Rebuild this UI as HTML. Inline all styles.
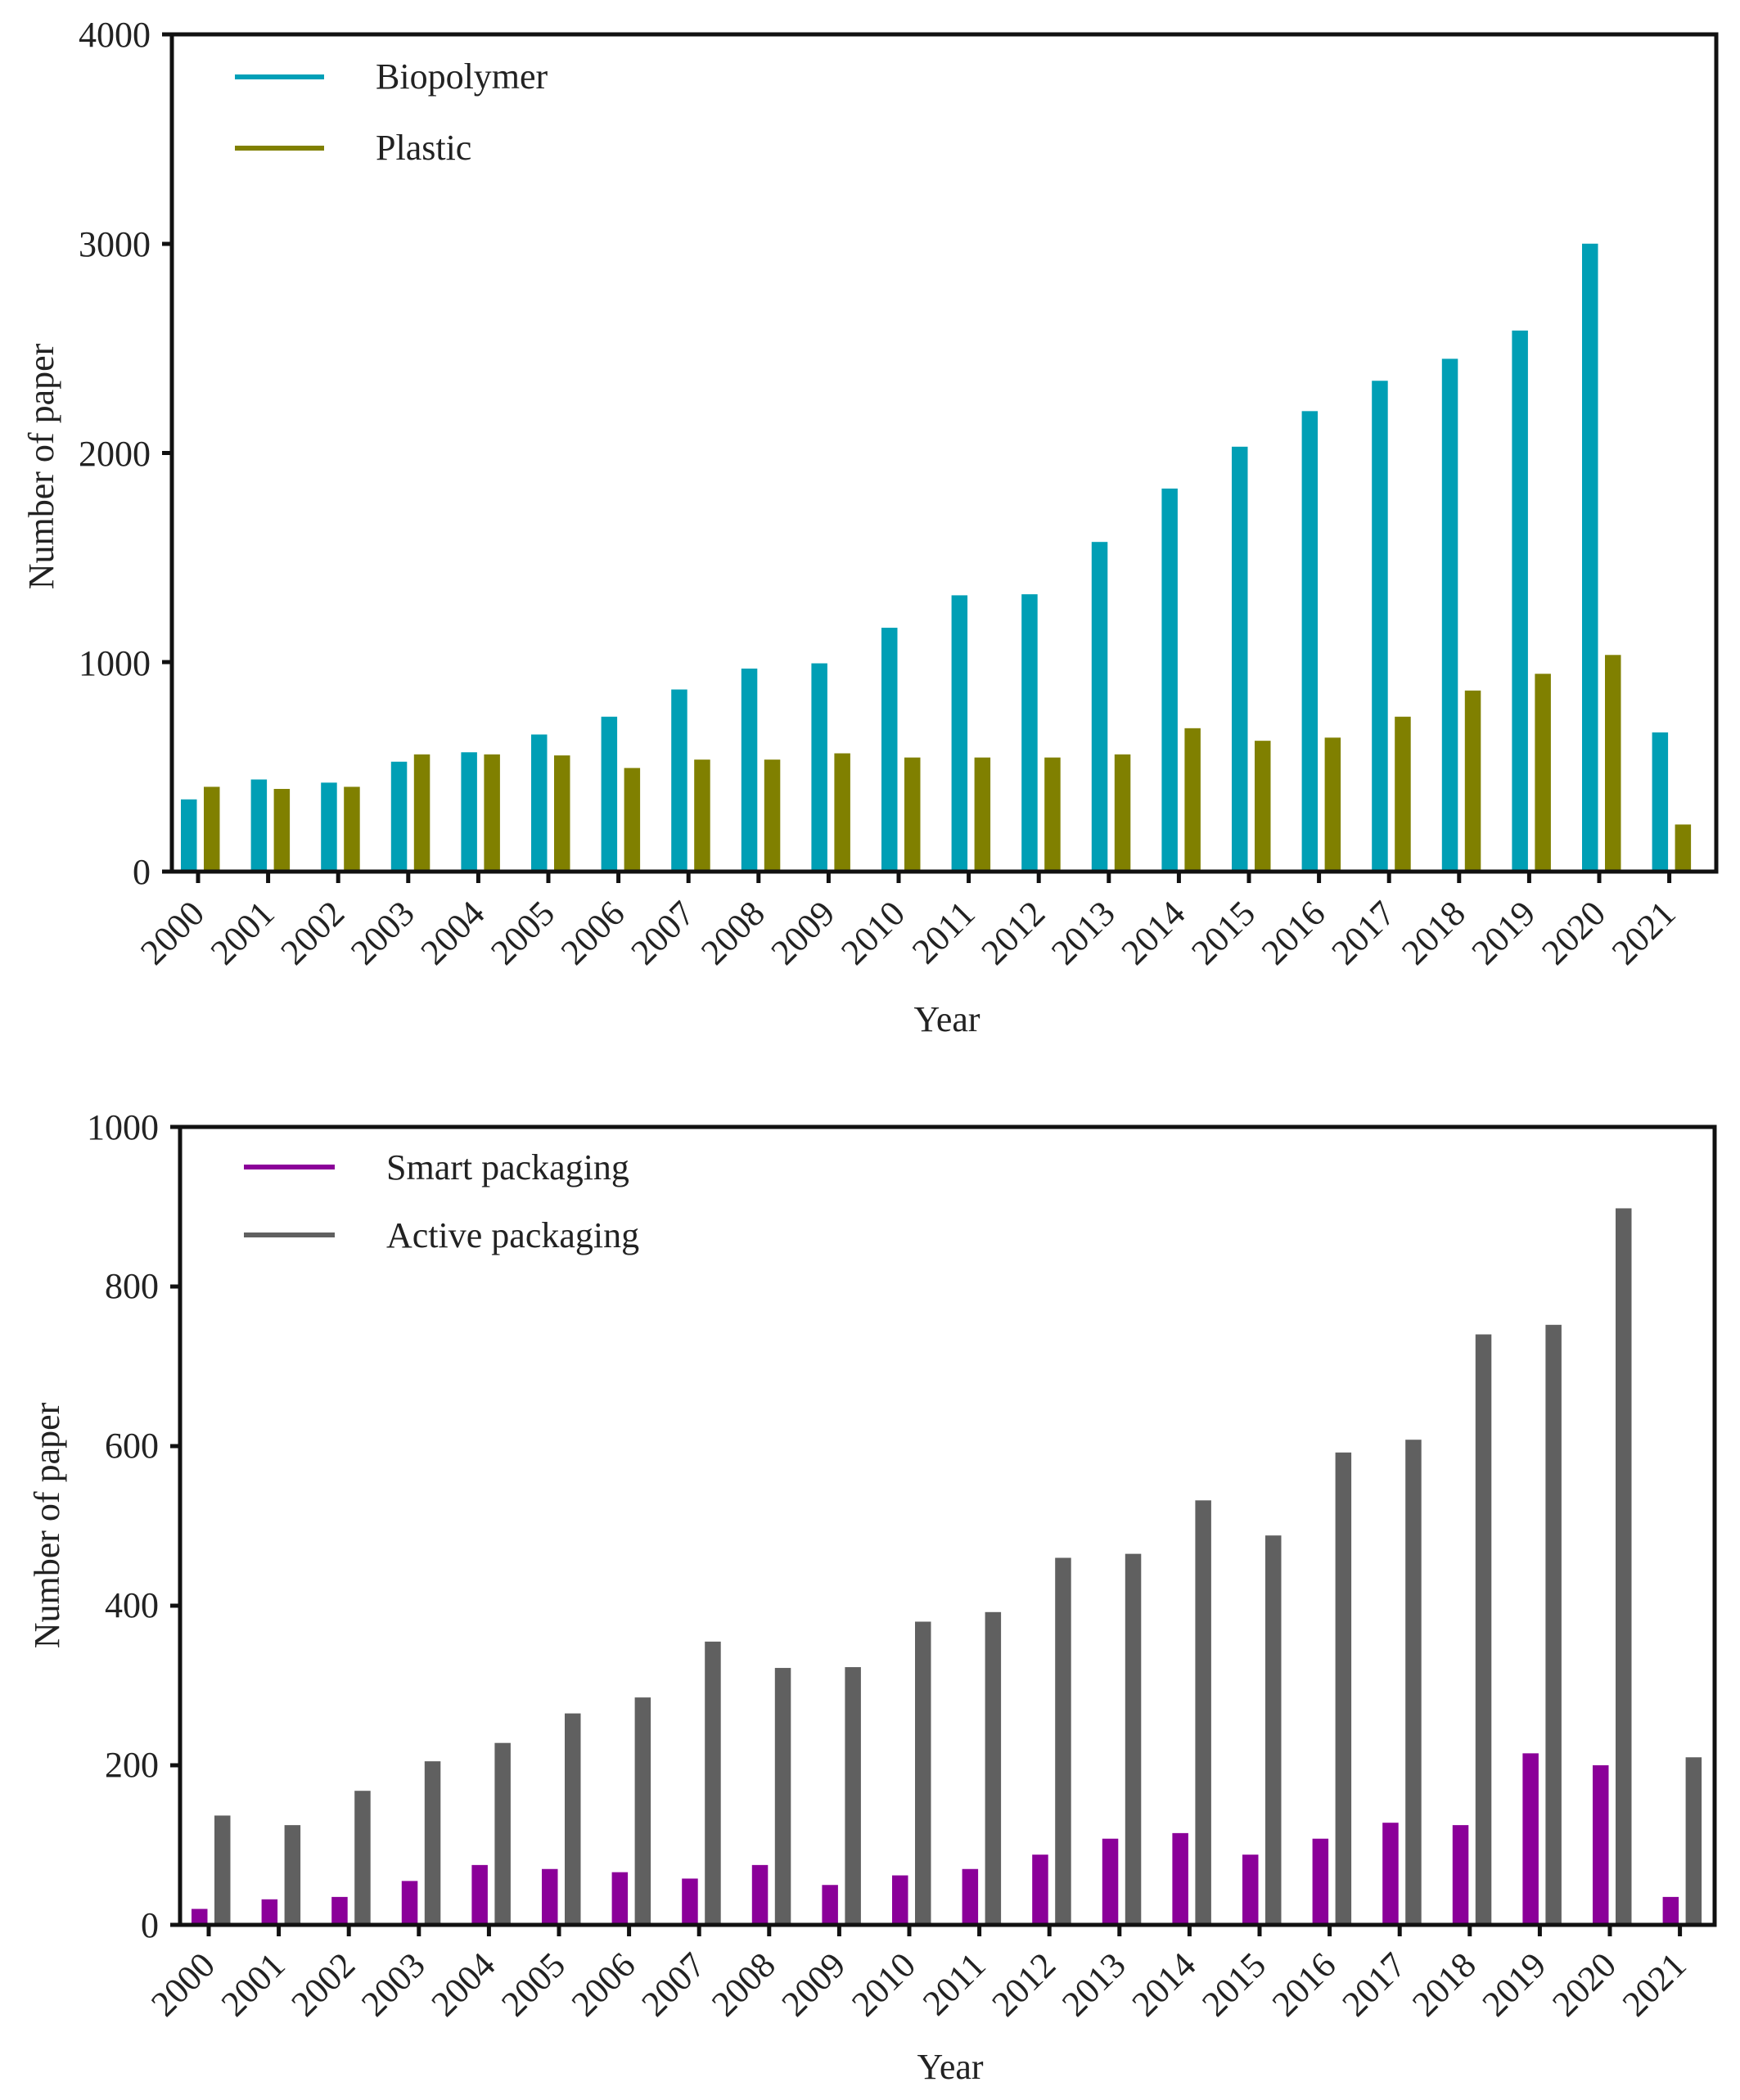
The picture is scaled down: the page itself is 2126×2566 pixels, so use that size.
<!DOCTYPE html>
<html><head><meta charset="utf-8"><style>
html,body{margin:0;padding:0;background:#fff;}
svg{display:block;font-family:"Liberation Serif",serif;}
</style></head><body>
<svg width="2126" height="2566" viewBox="0 0 2126 2566" xmlns="http://www.w3.org/2000/svg">
<rect width="2126" height="2566" fill="#fff"/>

<!-- TOP BARS -->
<g transform="translate(0,1065) scale(1,-0.25575)">
<g fill="#009fb5">
<rect x="221" y="0" width="19.5" height="345"/>
<rect x="306.6" y="0" width="19.5" height="440"/>
<rect x="392.2" y="0" width="19.5" height="425"/>
<rect x="477.8" y="0" width="19.5" height="525"/>
<rect x="563.4" y="0" width="19.5" height="570"/>
<rect x="649" y="0" width="19.5" height="655"/>
<rect x="734.6" y="0" width="19.5" height="740"/>
<rect x="820.2" y="0" width="19.5" height="870"/>
<rect x="905.8" y="0" width="19.5" height="970"/>
<rect x="991.4" y="0" width="19.5" height="995"/>
<rect x="1077" y="0" width="19.5" height="1165"/>
<rect x="1162.6" y="0" width="19.5" height="1320"/>
<rect x="1248.2" y="0" width="19.5" height="1325"/>
<rect x="1333.8" y="0" width="19.5" height="1575"/>
<rect x="1419.4" y="0" width="19.5" height="1830"/>
<rect x="1505" y="0" width="19.5" height="2030"/>
<rect x="1590.6" y="0" width="19.5" height="2200"/>
<rect x="1676.2" y="0" width="19.5" height="2345"/>
<rect x="1761.8" y="0" width="19.5" height="2450"/>
<rect x="1847.4" y="0" width="19.5" height="2585"/>
<rect x="1933" y="0" width="19.5" height="3000"/>
<rect x="2018.6" y="0" width="19.5" height="665"/>
</g>
<g fill="#808000">
<rect x="249" y="0" width="19.5" height="405"/>
<rect x="334.6" y="0" width="19.5" height="395"/>
<rect x="420.2" y="0" width="19.5" height="405"/>
<rect x="505.8" y="0" width="19.5" height="560"/>
<rect x="591.4" y="0" width="19.5" height="560"/>
<rect x="677" y="0" width="19.5" height="555"/>
<rect x="762.6" y="0" width="19.5" height="495"/>
<rect x="848.2" y="0" width="19.5" height="535"/>
<rect x="933.8" y="0" width="19.5" height="535"/>
<rect x="1019.4" y="0" width="19.5" height="565"/>
<rect x="1105" y="0" width="19.5" height="545"/>
<rect x="1190.6" y="0" width="19.5" height="545"/>
<rect x="1276.2" y="0" width="19.5" height="545"/>
<rect x="1361.8" y="0" width="19.5" height="560"/>
<rect x="1447.4" y="0" width="19.5" height="685"/>
<rect x="1533" y="0" width="19.5" height="625"/>
<rect x="1618.6" y="0" width="19.5" height="640"/>
<rect x="1704.2" y="0" width="19.5" height="740"/>
<rect x="1789.8" y="0" width="19.5" height="865"/>
<rect x="1875.4" y="0" width="19.5" height="945"/>
<rect x="1961" y="0" width="19.5" height="1035"/>
<rect x="2046.6" y="0" width="19.5" height="225"/>
</g>
</g>

<!-- BOTTOM BARS -->
<g transform="translate(0,2352) scale(1,-0.975)">
<g fill="#8b0099">
<rect x="234" y="0" width="19.5" height="20"/>
<rect x="319.6" y="0" width="19.5" height="32"/>
<rect x="405.2" y="0" width="19.5" height="35"/>
<rect x="490.8" y="0" width="19.5" height="55"/>
<rect x="576.4" y="0" width="19.5" height="75"/>
<rect x="662" y="0" width="19.5" height="70"/>
<rect x="747.6" y="0" width="19.5" height="66"/>
<rect x="833.2" y="0" width="19.5" height="58"/>
<rect x="918.8" y="0" width="19.5" height="75"/>
<rect x="1004.4" y="0" width="19.5" height="50"/>
<rect x="1090" y="0" width="19.5" height="62"/>
<rect x="1175.6" y="0" width="19.5" height="70"/>
<rect x="1261.2" y="0" width="19.5" height="88"/>
<rect x="1346.8" y="0" width="19.5" height="108"/>
<rect x="1432.4" y="0" width="19.5" height="115"/>
<rect x="1518" y="0" width="19.5" height="88"/>
<rect x="1603.6" y="0" width="19.5" height="108"/>
<rect x="1689.2" y="0" width="19.5" height="128"/>
<rect x="1774.8" y="0" width="19.5" height="125"/>
<rect x="1860.4" y="0" width="19.5" height="215"/>
<rect x="1946" y="0" width="19.5" height="200"/>
<rect x="2031.6" y="0" width="19.5" height="35"/>
</g>
<g fill="#606060">
<rect x="262" y="0" width="19.5" height="137"/>
<rect x="347.6" y="0" width="19.5" height="125"/>
<rect x="433.2" y="0" width="19.5" height="168"/>
<rect x="518.8" y="0" width="19.5" height="205"/>
<rect x="604.4" y="0" width="19.5" height="228"/>
<rect x="690" y="0" width="19.5" height="265"/>
<rect x="775.6" y="0" width="19.5" height="285"/>
<rect x="861.2" y="0" width="19.5" height="355"/>
<rect x="946.8" y="0" width="19.5" height="322"/>
<rect x="1032.4" y="0" width="19.5" height="323"/>
<rect x="1118" y="0" width="19.5" height="380"/>
<rect x="1203.6" y="0" width="19.5" height="392"/>
<rect x="1289.2" y="0" width="19.5" height="460"/>
<rect x="1374.8" y="0" width="19.5" height="465"/>
<rect x="1460.4" y="0" width="19.5" height="532"/>
<rect x="1546" y="0" width="19.5" height="488"/>
<rect x="1631.6" y="0" width="19.5" height="592"/>
<rect x="1717.2" y="0" width="19.5" height="608"/>
<rect x="1802.8" y="0" width="19.5" height="740"/>
<rect x="1888.4" y="0" width="19.5" height="752"/>
<rect x="1974" y="0" width="19.5" height="898"/>
<rect x="2059.6" y="0" width="19.5" height="210"/>
</g>
</g>

<!-- AXES -->
<rect x="210" y="42" width="1887" height="1023" fill="none" stroke="#111" stroke-width="5"/>
<rect x="220" y="1377" width="1875" height="975" fill="none" stroke="#111" stroke-width="5"/>
<g stroke="#111" stroke-width="5">
<line x1="198" y1="42" x2="210" y2="42"/>
<line x1="198" y1="298" x2="210" y2="298"/>
<line x1="198" y1="553.5" x2="210" y2="553.5"/>
<line x1="198" y1="809" x2="210" y2="809"/>
<line x1="198" y1="1065" x2="210" y2="1065"/>
<line x1="208" y1="1377" x2="220" y2="1377"/>
<line x1="208" y1="1572" x2="220" y2="1572"/>
<line x1="208" y1="1767" x2="220" y2="1767"/>
<line x1="208" y1="1962" x2="220" y2="1962"/>
<line x1="208" y1="2157" x2="220" y2="2157"/>
<line x1="208" y1="2352" x2="220" y2="2352"/>
</g>
<g stroke="#111" stroke-width="5">
<line x1="242" y1="1065" x2="242" y2="1079"/><line x1="327.6" y1="1065" x2="327.6" y2="1079"/><line x1="413.2" y1="1065" x2="413.2" y2="1079"/><line x1="498.8" y1="1065" x2="498.8" y2="1079"/><line x1="584.4" y1="1065" x2="584.4" y2="1079"/><line x1="670" y1="1065" x2="670" y2="1079"/><line x1="755.6" y1="1065" x2="755.6" y2="1079"/><line x1="841.2" y1="1065" x2="841.2" y2="1079"/><line x1="926.8" y1="1065" x2="926.8" y2="1079"/><line x1="1012.4" y1="1065" x2="1012.4" y2="1079"/><line x1="1098" y1="1065" x2="1098" y2="1079"/><line x1="1183.6" y1="1065" x2="1183.6" y2="1079"/><line x1="1269.2" y1="1065" x2="1269.2" y2="1079"/><line x1="1354.8" y1="1065" x2="1354.8" y2="1079"/><line x1="1440.4" y1="1065" x2="1440.4" y2="1079"/><line x1="1526" y1="1065" x2="1526" y2="1079"/><line x1="1611.6" y1="1065" x2="1611.6" y2="1079"/><line x1="1697.2" y1="1065" x2="1697.2" y2="1079"/><line x1="1782.8" y1="1065" x2="1782.8" y2="1079"/><line x1="1868.4" y1="1065" x2="1868.4" y2="1079"/><line x1="1954" y1="1065" x2="1954" y2="1079"/><line x1="2039.6" y1="1065" x2="2039.6" y2="1079"/>
<line x1="255" y1="2352" x2="255" y2="2366"/><line x1="340.6" y1="2352" x2="340.6" y2="2366"/><line x1="426.2" y1="2352" x2="426.2" y2="2366"/><line x1="511.8" y1="2352" x2="511.8" y2="2366"/><line x1="597.4" y1="2352" x2="597.4" y2="2366"/><line x1="683" y1="2352" x2="683" y2="2366"/><line x1="768.6" y1="2352" x2="768.6" y2="2366"/><line x1="854.2" y1="2352" x2="854.2" y2="2366"/><line x1="939.8" y1="2352" x2="939.8" y2="2366"/><line x1="1025.4" y1="2352" x2="1025.4" y2="2366"/><line x1="1111" y1="2352" x2="1111" y2="2366"/><line x1="1196.6" y1="2352" x2="1196.6" y2="2366"/><line x1="1282.2" y1="2352" x2="1282.2" y2="2366"/><line x1="1367.8" y1="2352" x2="1367.8" y2="2366"/><line x1="1453.4" y1="2352" x2="1453.4" y2="2366"/><line x1="1539" y1="2352" x2="1539" y2="2366"/><line x1="1624.6" y1="2352" x2="1624.6" y2="2366"/><line x1="1710.2" y1="2352" x2="1710.2" y2="2366"/><line x1="1795.8" y1="2352" x2="1795.8" y2="2366"/><line x1="1881.4" y1="2352" x2="1881.4" y2="2366"/><line x1="1967" y1="2352" x2="1967" y2="2366"/><line x1="2052.6" y1="2352" x2="2052.6" y2="2366"/>
</g>

<!-- TEXT -->
<g font-size="44" fill="#222">
<text x="184" y="57" text-anchor="end">4000</text>
<text x="184" y="313" text-anchor="end">3000</text>
<text x="184" y="569" text-anchor="end">2000</text>
<text x="184" y="825" text-anchor="end">1000</text>
<text x="184" y="1080" text-anchor="end">0</text>
<text transform="translate(65,570) rotate(-90)" text-anchor="middle">Number of paper</text>
<text x="1157" y="1260" text-anchor="middle">Year</text>
<text x="459" y="108">Biopolymer</text>
<text x="459" y="195">Plastic</text>
<text x="194" y="1392" text-anchor="end">1000</text>
<text x="194" y="1586" text-anchor="end">800</text>
<text x="194" y="1781" text-anchor="end">600</text>
<text x="194" y="1976" text-anchor="end">400</text>
<text x="194" y="2171" text-anchor="end">200</text>
<text x="194" y="2367" text-anchor="end">0</text>
<text transform="translate(72,1864) rotate(-90)" text-anchor="middle">Number of paper</text>
<text x="1161" y="2540" text-anchor="middle">Year</text>
<text x="472" y="1441">Smart packaging</text>
<text x="472" y="1524">Active packaging</text>
</g>
<g font-size="44" fill="#222" text-anchor="end">
<text transform="translate(252,1119) rotate(-45)">2000</text>
<text transform="translate(337.6,1119) rotate(-45)">2001</text>
<text transform="translate(423.2,1119) rotate(-45)">2002</text>
<text transform="translate(508.8,1119) rotate(-45)">2003</text>
<text transform="translate(594.4,1119) rotate(-45)">2004</text>
<text transform="translate(680,1119) rotate(-45)">2005</text>
<text transform="translate(765.6,1119) rotate(-45)">2006</text>
<text transform="translate(851.2,1119) rotate(-45)">2007</text>
<text transform="translate(936.8,1119) rotate(-45)">2008</text>
<text transform="translate(1022.4,1119) rotate(-45)">2009</text>
<text transform="translate(1108,1119) rotate(-45)">2010</text>
<text transform="translate(1193.6,1119) rotate(-45)">2011</text>
<text transform="translate(1279.2,1119) rotate(-45)">2012</text>
<text transform="translate(1364.8,1119) rotate(-45)">2013</text>
<text transform="translate(1450.4,1119) rotate(-45)">2014</text>
<text transform="translate(1536,1119) rotate(-45)">2015</text>
<text transform="translate(1621.6,1119) rotate(-45)">2016</text>
<text transform="translate(1707.2,1119) rotate(-45)">2017</text>
<text transform="translate(1792.8,1119) rotate(-45)">2018</text>
<text transform="translate(1878.4,1119) rotate(-45)">2019</text>
<text transform="translate(1964,1119) rotate(-45)">2020</text>
<text transform="translate(2049.6,1119) rotate(-45)">2021</text>
<text transform="translate(265,2404) rotate(-45)">2000</text>
<text transform="translate(350.6,2404) rotate(-45)">2001</text>
<text transform="translate(436.2,2404) rotate(-45)">2002</text>
<text transform="translate(521.8,2404) rotate(-45)">2003</text>
<text transform="translate(607.4,2404) rotate(-45)">2004</text>
<text transform="translate(693,2404) rotate(-45)">2005</text>
<text transform="translate(778.6,2404) rotate(-45)">2006</text>
<text transform="translate(864.2,2404) rotate(-45)">2007</text>
<text transform="translate(949.8,2404) rotate(-45)">2008</text>
<text transform="translate(1035.4,2404) rotate(-45)">2009</text>
<text transform="translate(1121,2404) rotate(-45)">2010</text>
<text transform="translate(1206.6,2404) rotate(-45)">2011</text>
<text transform="translate(1292.2,2404) rotate(-45)">2012</text>
<text transform="translate(1377.8,2404) rotate(-45)">2013</text>
<text transform="translate(1463.4,2404) rotate(-45)">2014</text>
<text transform="translate(1549,2404) rotate(-45)">2015</text>
<text transform="translate(1634.6,2404) rotate(-45)">2016</text>
<text transform="translate(1720.2,2404) rotate(-45)">2017</text>
<text transform="translate(1805.8,2404) rotate(-45)">2018</text>
<text transform="translate(1891.4,2404) rotate(-45)">2019</text>
<text transform="translate(1977,2404) rotate(-45)">2020</text>
<text transform="translate(2062.6,2404) rotate(-45)">2021</text>
</g>

<line x1="287" y1="94" x2="396" y2="94" stroke="#00a0b8" stroke-width="6"/>
<line x1="287" y1="181" x2="396" y2="181" stroke="#808000" stroke-width="6"/>
<line x1="298" y1="1426" x2="409" y2="1426" stroke="#8b0099" stroke-width="6"/>
<line x1="298" y1="1509" x2="409" y2="1509" stroke="#606060" stroke-width="6"/>
</svg>
</body></html>
